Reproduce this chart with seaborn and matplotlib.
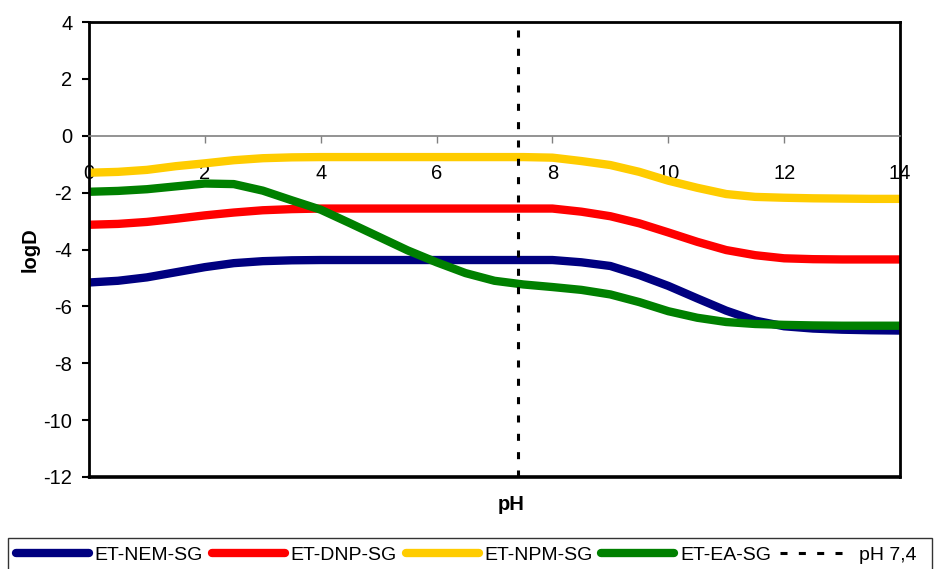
import matplotlib
matplotlib.use("Agg")
import matplotlib.pyplot as plt
from matplotlib.lines import Line2D
from matplotlib.patches import Rectangle
import numpy as np
import pandas as pd
import seaborn as sns

# pH grid (0 to 14 in half units)
ph = [0, 0.5, 1, 1.5, 2, 2.5, 3, 3.5, 4, 4.5, 5, 5.5, 6, 6.5, 7, 7.5,
      8, 8.5, 9, 9.5, 10, 10.5, 11, 11.5, 12, 12.5, 13, 13.5, 14]

nem_sg = [-5.16, -5.10, -4.98, -4.80, -4.62, -4.48, -4.41, -4.38, -4.37, -4.37,
          -4.37, -4.37, -4.37, -4.37, -4.37, -4.37, -4.37, -4.45, -4.58, -4.90,
          -5.28, -5.72, -6.15, -6.50, -6.70, -6.78, -6.82, -6.84, -6.85]
dnp_sg = [-3.13, -3.10, -3.03, -2.92, -2.80, -2.70, -2.62, -2.58, -2.56, -2.56,
          -2.56, -2.56, -2.56, -2.56, -2.56, -2.56, -2.56, -2.67, -2.83, -3.08,
          -3.40, -3.73, -4.02, -4.20, -4.31, -4.34, -4.35, -4.35, -4.35]
npm_sg = [-1.30, -1.27, -1.20, -1.07, -0.97, -0.86, -0.79, -0.76, -0.75, -0.75,
          -0.75, -0.75, -0.75, -0.75, -0.75, -0.75, -0.77, -0.89, -1.03, -1.27,
          -1.58, -1.83, -2.05, -2.15, -2.18, -2.20, -2.21, -2.22, -2.22]
ea_sg = [-1.97, -1.94, -1.88, -1.78, -1.68, -1.70, -1.93, -2.27, -2.60, -3.07,
         -3.55, -4.03, -4.45, -4.83, -5.10, -5.23, -5.32, -5.42, -5.58, -5.85,
         -6.17, -6.40, -6.55, -6.62, -6.65, -6.67, -6.68, -6.68, -6.68]

series_names = ["ET-NEM-SG", "ET-DNP-SG", "ET-NPM-SG", "ET-EA-SG"]
series_colors = ["#000080", "#FF0000", "#FFCC00", "#008000"]
physiological_ph = 7.4
ref_label = "pH 7,4"

x_ticks = [0, 2, 4, 6, 8, 10, 12, 14]
y_ticks = [-12, -10, -8, -6, -4, -2, 0, 2, 4]

df = pd.concat([
    pd.DataFrame({"pH": ph, "logD": vals, "compound": name})
    for name, vals in zip(series_names, [nem_sg, dnp_sg, npm_sg, ea_sg])
])

sns.set_theme(style="white")
plt.rcParams["font.family"] = ["Liberation Sans", "DejaVu Sans"]
plt.rcParams["text.color"] = "black"
plt.rcParams["axes.labelcolor"] = "black"
plt.rcParams["xtick.labelcolor"] = "black"
plt.rcParams["ytick.labelcolor"] = "black"

fig = plt.figure(figsize=(9.34, 5.69), dpi=100)
ax = fig.add_axes([89 / 934, 1 - 477 / 569, 811 / 934, 455 / 569])

palette = dict(zip(series_names, series_colors))
line_w = 6.0
sns.lineplot(data=df, x="pH", y="logD", hue="compound", hue_order=series_names,
             palette=palette, linewidth=line_w, legend=False, ax=ax,
             solid_capstyle="butt", solid_joinstyle="round")

ax.axvline(physiological_ph, color="black", linewidth=2.2, dashes=(2.3, 3.7),
           zorder=5)

# frame: black box, horizontal axis line through logD = 0
for side in ["left", "right", "top"]:
    ax.spines[side].set_color("black")
    ax.spines[side].set_linewidth(2)
ax.spines["bottom"].set_position(("data", 0))
ax.spines["bottom"].set_color("#808080")
ax.spines["bottom"].set_linewidth(1.2)
ax.axhline(-12, color="black", linewidth=2.6, clip_on=False, zorder=6)

ax.set_xlim(0, 14)
ax.set_ylim(-12, 4)
ax.set_xticks(x_ticks)
ax.set_yticks(y_ticks)
ax.set_xticklabels([str(v) for v in x_ticks])
ax.set_yticklabels([str(v) for v in y_ticks])

ax.tick_params(axis="x", direction="out", length=5, width=1, color="#808080",
               pad=15, bottom=True, labelsize=14.5, labelcolor="black")
ax.tick_params(axis="y", direction="out", length=5, width=1.5, color="black",
               pad=7, left=True, labelsize=14.5, labelcolor="black")

ax.set_xlabel("pH", fontsize=14.5, fontweight="bold")
ax.set_ylabel("logD", fontsize=14.5, fontweight="bold")
ax.xaxis.label.set_va("center")
ax.yaxis.label.set_va("center")
ax.xaxis.set_label_coords((511 - 89) / 811, (477 - 505) / 455)
ax.yaxis.set_label_coords((30 - 89) / 811, 0.5)

# legend along the bottom edge
handles = [Line2D([0], [0], color=c, linewidth=line_w, solid_capstyle="round")
           for c in series_colors]
handles.append(Line2D([0], [0], color="black", linewidth=2.2, dashes=(2.3, 3.7)))
labels = series_names + [ref_label]
fig.legend(handles, labels, loc="center left",
           bbox_to_anchor=(16 / 934, 1 - 555 / 569), ncol=5, frameon=False,
           fontsize=14, handlelength=3.75, handletextpad=0.3, columnspacing=0.45,
           borderpad=0, borderaxespad=0)
fig.patches.append(Rectangle((8 / 934, -0.02), 924 / 934, (569 - 538) / 569 + 0.02,
                             transform=fig.transFigure, fill=False,
                             edgecolor="#333333", linewidth=1))

fig.savefig("out.png", dpi=100)
